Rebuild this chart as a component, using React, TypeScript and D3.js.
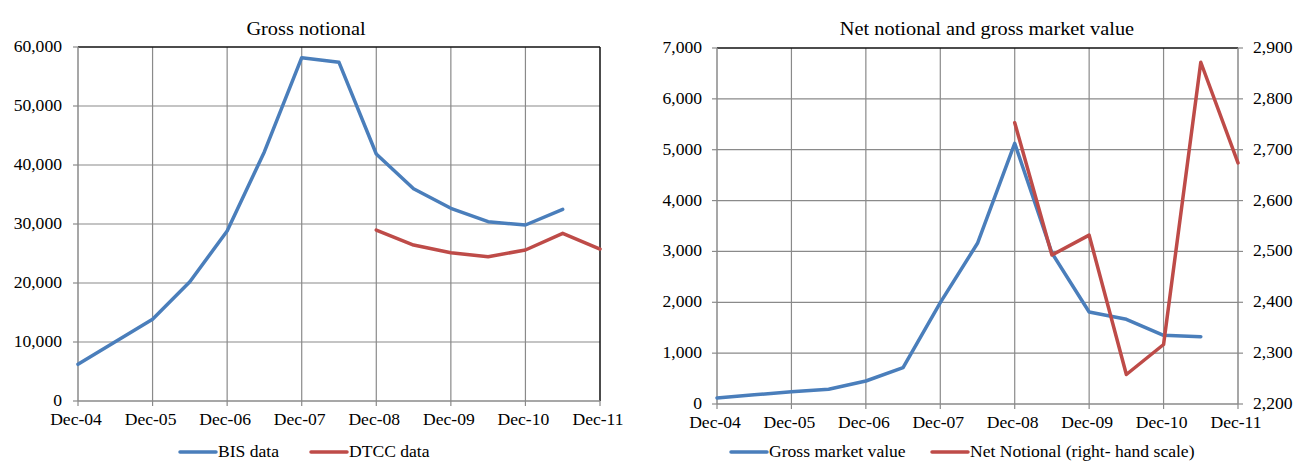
import React from 'react';
import * as d3 from 'd3';

// half-year observation dates
const periods = [
  'Dec-04', 'Jun-05', 'Dec-05', 'Jun-06', 'Dec-06', 'Jun-07', 'Dec-07', 'Jun-08',
  'Dec-08', 'Jun-09', 'Dec-09', 'Jun-10', 'Dec-10', 'Jun-11', 'Dec-11',
];
const axisLabels = ['Dec-04', 'Dec-05', 'Dec-06', 'Dec-07', 'Dec-08', 'Dec-09', 'Dec-10', 'Dec-11'];

// left panel: gross notional
const bisData = [6220, 10050, 13850, 20220, 28800, 42250, 58190, 57400, 41860, 35980, 32660, 30390, 29830, 32490, null];
const dtccData = [null, null, null, null, null, null, null, null, 28980, 26440, 25140, 24460, 25590, 28420, 25760];
const grossTicks = [0, 10000, 20000, 30000, 40000, 50000, 60000];

// right panel: net notional and gross market value
const grossMarketValue = [120, 180, 242, 289, 452, 714, 1992, 3160, 5126, 2969, 1810, 1665, 1350, 1324, null];
const netNotional = [null, null, null, null, null, null, null, null, 2753, 2493, 2532, 2258, 2317, 2872, 2674];
const leftTicks = [0, 1000, 2000, 3000, 4000, 5000, 6000, 7000];
const rightTicks = [2200, 2300, 2400, 2500, 2600, 2700, 2800, 2900];

const BLUE = '#4a7ebb';
const RED = '#be4b48';
const GRID = '#8a8a8a';
const SX = 1.1;
const FONT = '"Liberation Serif", "Times New Roman", serif';
const fmt = d3.format(',');

type Val = number | null;

// stretched text, the reference is a little wide
const T: React.FC<{ x: number; y: number; anchor?: string; size?: number; children: React.ReactNode }> = ({
  x, y, anchor = 'middle', size = 16, children,
}) => (
  <text
    transform={`translate(${x},${y}) scale(${SX},1)`}
    textAnchor={anchor}
    fontSize={size}
    fontFamily={FONT}
    fill="#000"
  >
    {children}
  </text>
);

const linePath = (xs: d3.ScalePoint<string>, ys: d3.ScaleLinear<number, number>, vals: Val[]) =>
  d3
    .line<Val>()
    .defined((d) => d !== null)
    .x((_, i) => xs(periods[i]) as number)
    .y((d) => ys(d as number))(vals) ?? '';

const Legend: React.FC<{ items: { label: string; color: string; x: number }[]; y: number }> = ({ items, y }) => (
  <g>
    {items.map((it) => (
      <g key={it.label}>
        <line x1={it.x} x2={it.x + 36} y1={y} y2={y} stroke={it.color} strokeWidth={3.5} strokeLinecap="round" />
        <T x={it.x + 38} y={y + 5} anchor="start">{it.label}</T>
      </g>
    ))}
  </g>
);

const GrossPanel: React.FC = () => {
  const left = 78, right = 600, top = 47, bottom = 401;
  const x = d3.scalePoint<string>().domain(periods).range([left, right]);
  const y = d3.scaleLinear().domain([0, 60000]).range([bottom, top]);
  return (
    <g>
      <T x={306} y={35} size={18.5}>Gross notional</T>
      {grossTicks.slice(1, -1).map((t) => (
        <line key={t} x1={left} x2={right} y1={y(t)} y2={y(t)} stroke={GRID} strokeWidth={1.2} />
      ))}
      {axisLabels.slice(1, -1).map((p) => (
        <line key={p} x1={x(p)} x2={x(p)} y1={top} y2={bottom} stroke={GRID} strokeWidth={1.2} />
      ))}
      <line x1={left} x2={right} y1={top} y2={top} stroke="#111" strokeWidth={1.5} />
      <line x1={right} x2={right} y1={top} y2={bottom} stroke="#111" strokeWidth={1.5} />
      <line x1={left} x2={left} y1={top} y2={bottom} stroke={GRID} strokeWidth={1.5} />
      <line x1={left} x2={right} y1={bottom} y2={bottom} stroke={GRID} strokeWidth={1.5} />
      {grossTicks.map((t) => (
        <g key={t}>
          <line x1={left - 5} x2={left} y1={y(t)} y2={y(t)} stroke={GRID} strokeWidth={1.2} />
          <T x={left - 16} y={y(t) + 5} anchor="end">{fmt(t)}</T>
        </g>
      ))}
      {axisLabels.map((p) => (
        <g key={p}>
          <line x1={x(p)} x2={x(p)} y1={bottom} y2={bottom + 5} stroke={GRID} strokeWidth={1.2} />
          <T x={(x(p) as number) - 2} y={bottom + 24}>{p}</T>
        </g>
      ))}
      <path d={linePath(x, y, bisData)} fill="none" stroke={BLUE} strokeWidth={3.5} strokeLinejoin="round" strokeLinecap="round" />
      <path d={linePath(x, y, dtccData)} fill="none" stroke={RED} strokeWidth={3.5} strokeLinejoin="round" strokeLinecap="round" />
      <Legend
        y={452}
        items={[
          { label: 'BIS data', color: BLUE, x: 180 },
          { label: 'DTCC data', color: RED, x: 311 },
        ]}
      />
    </g>
  );
};

const NetPanel: React.FC = () => {
  const left = 717, right = 1238, top = 48, bottom = 404;
  const x = d3.scalePoint<string>().domain(periods).range([left, right]);
  const yL = d3.scaleLinear().domain([0, 7000]).range([bottom, top]);
  const yR = d3.scaleLinear().domain([2200, 2900]).range([bottom, top]);
  return (
    <g>
      <T x={987} y={35} size={18.5}>Net notional and gross market  value</T>
      {leftTicks.slice(1, -1).map((t) => (
        <line key={t} x1={left} x2={right} y1={yL(t)} y2={yL(t)} stroke={GRID} strokeWidth={1.2} />
      ))}
      {axisLabels.slice(1, -1).map((p) => (
        <line key={p} x1={x(p)} x2={x(p)} y1={top} y2={bottom} stroke={GRID} strokeWidth={1.2} />
      ))}
      <line x1={left} x2={right} y1={top} y2={top} stroke="#111" strokeWidth={1.5} />
      <line x1={right} x2={right} y1={top} y2={bottom} stroke={GRID} strokeWidth={1.5} />
      <line x1={left} x2={left} y1={top} y2={bottom} stroke={GRID} strokeWidth={1.5} />
      <line x1={left} x2={right} y1={bottom} y2={bottom} stroke={GRID} strokeWidth={1.5} />
      {leftTicks.map((t) => (
        <g key={t}>
          <line x1={left - 5} x2={left} y1={yL(t)} y2={yL(t)} stroke={GRID} strokeWidth={1.2} />
          <T x={left - 15} y={yL(t) + 5} anchor="end">{fmt(t)}</T>
        </g>
      ))}
      {rightTicks.map((t) => (
        <g key={t}>
          <line x1={right} x2={right + 5} y1={yR(t)} y2={yR(t)} stroke={GRID} strokeWidth={1.2} />
          <T x={right + 15} y={yR(t) + 5} anchor="start">{fmt(t)}</T>
        </g>
      ))}
      {axisLabels.map((p) => (
        <g key={p}>
          <line x1={x(p)} x2={x(p)} y1={bottom} y2={bottom + 5} stroke={GRID} strokeWidth={1.2} />
          <T x={(x(p) as number) - 2} y={bottom + 24}>{p}</T>
        </g>
      ))}
      <path d={linePath(x, yL, grossMarketValue)} fill="none" stroke={BLUE} strokeWidth={3.5} strokeLinejoin="round" strokeLinecap="round" />
      <path d={linePath(x, yR, netNotional)} fill="none" stroke={RED} strokeWidth={3.5} strokeLinejoin="round" strokeLinecap="round" />
      <Legend
        y={452}
        items={[
          { label: 'Gross market value', color: BLUE, x: 731 },
          { label: 'Net Notional (right-  hand scale)', color: RED, x: 932 },
        ]}
      />
    </g>
  );
};

export default function App() {
  return (
    <svg
      width={1295}
      height={462}
      style={{ position: 'absolute', left: 0, top: 0, background: '#fff', fontFamily: FONT }}
    >
      <rect width={1295} height={462} fill="#fff" />
      <GrossPanel />
      <NetPanel />
    </svg>
  );
}
